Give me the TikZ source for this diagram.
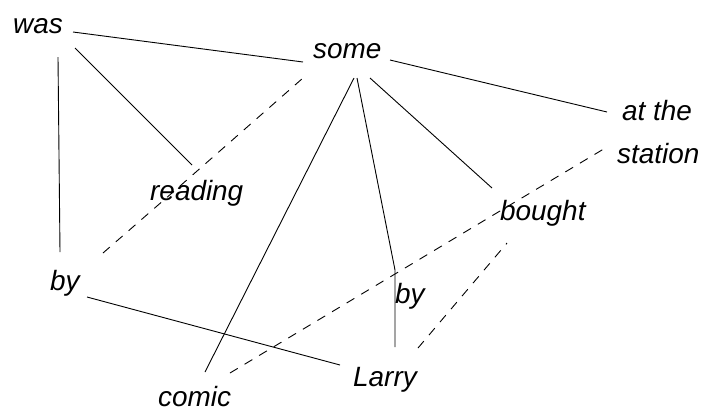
\documentclass[tikz,border=0pt]{standalone}
\usepackage{fontspec}
\setmainfont{Liberation Sans}
\usetikzlibrary{calc}
\begin{document}
\begin{tikzpicture}[x=1bp,y=-1bp,
  word/.style={inner sep=0pt, anchor=base west, font=\fontsize{28}{30}\selectfont\itshape},
  link/.style={line width=0.9bp},
  dlink/.style={line width=0.9bp, dash pattern=on 9bp off 8bp}]
\useasboundingbox (0,0) rectangle (705,414);
\node[word] (was) at (13,33) {was};
\node[word] (some) at (313,58) {some};
\node[word] (atthe) at (622,120) {at the};
\node[word] (station) at (617,163) {station};
\node[word] (reading) at (150,200) {reading};
\node[word] (bought) at (500,220) {bought};
\node[word] (bylft) at (50,290) {by};
\node[word] (bymid) at (395,303) {by};
\node[word] (larry) at (353,386) {Larry};
\node[word] (comic) at (158,406) {comic};
% solid
\draw[link] ($(was.base west)+(60,-1)$) -- ($(some.base west)+(-10,4)$);
\draw[link] ($(was.base west)+(62,15)$) -- ($(reading.base west)+(42,-35)$);
\draw[link] ($(was.base west)+(45,24)$) -- ($(bylft.base west)+(10,-38)$);
\draw[link] ($(some.base west)+(77,2)$) -- ($(atthe.base west)+(-15,-8)$);
\draw[link] ($(some.base west)+(57,20)$) -- ($(bought.base west)+(-8,-32)$);
\draw[link] ($(some.base west)+(41,20)$) -- ($(comic.base west)+(47,-34)$);
\draw[link] ($(some.base west)+(44,20)$) -- ($(bymid.base west)+(0,-33)$) -- ($(larry.base west)+(42,-39)$);
\draw[link] ($(bylft.base west)+(37,7)$) -- ($(larry.base west)+(-13,-21)$);
% dashed
\draw[dlink] ($(bylft.base west)+(53,-37)$) -- ($(reading.base west)+(30,-14)$) -- ($(some.base west)+(-10,20)$);
\draw[dlink] ($(comic.base west)+(72,-33)$) -- ($(bymid.base west)+(0,-29)$) -- ($(bought.base west)+(10,-15)$) -- ($(station.base west)+(-10,-16)$);
\draw[dlink] ($(larry.base west)+(65,-38)$) -- ($(bought.base west)+(7,23)$);
\end{tikzpicture}
\end{document}
